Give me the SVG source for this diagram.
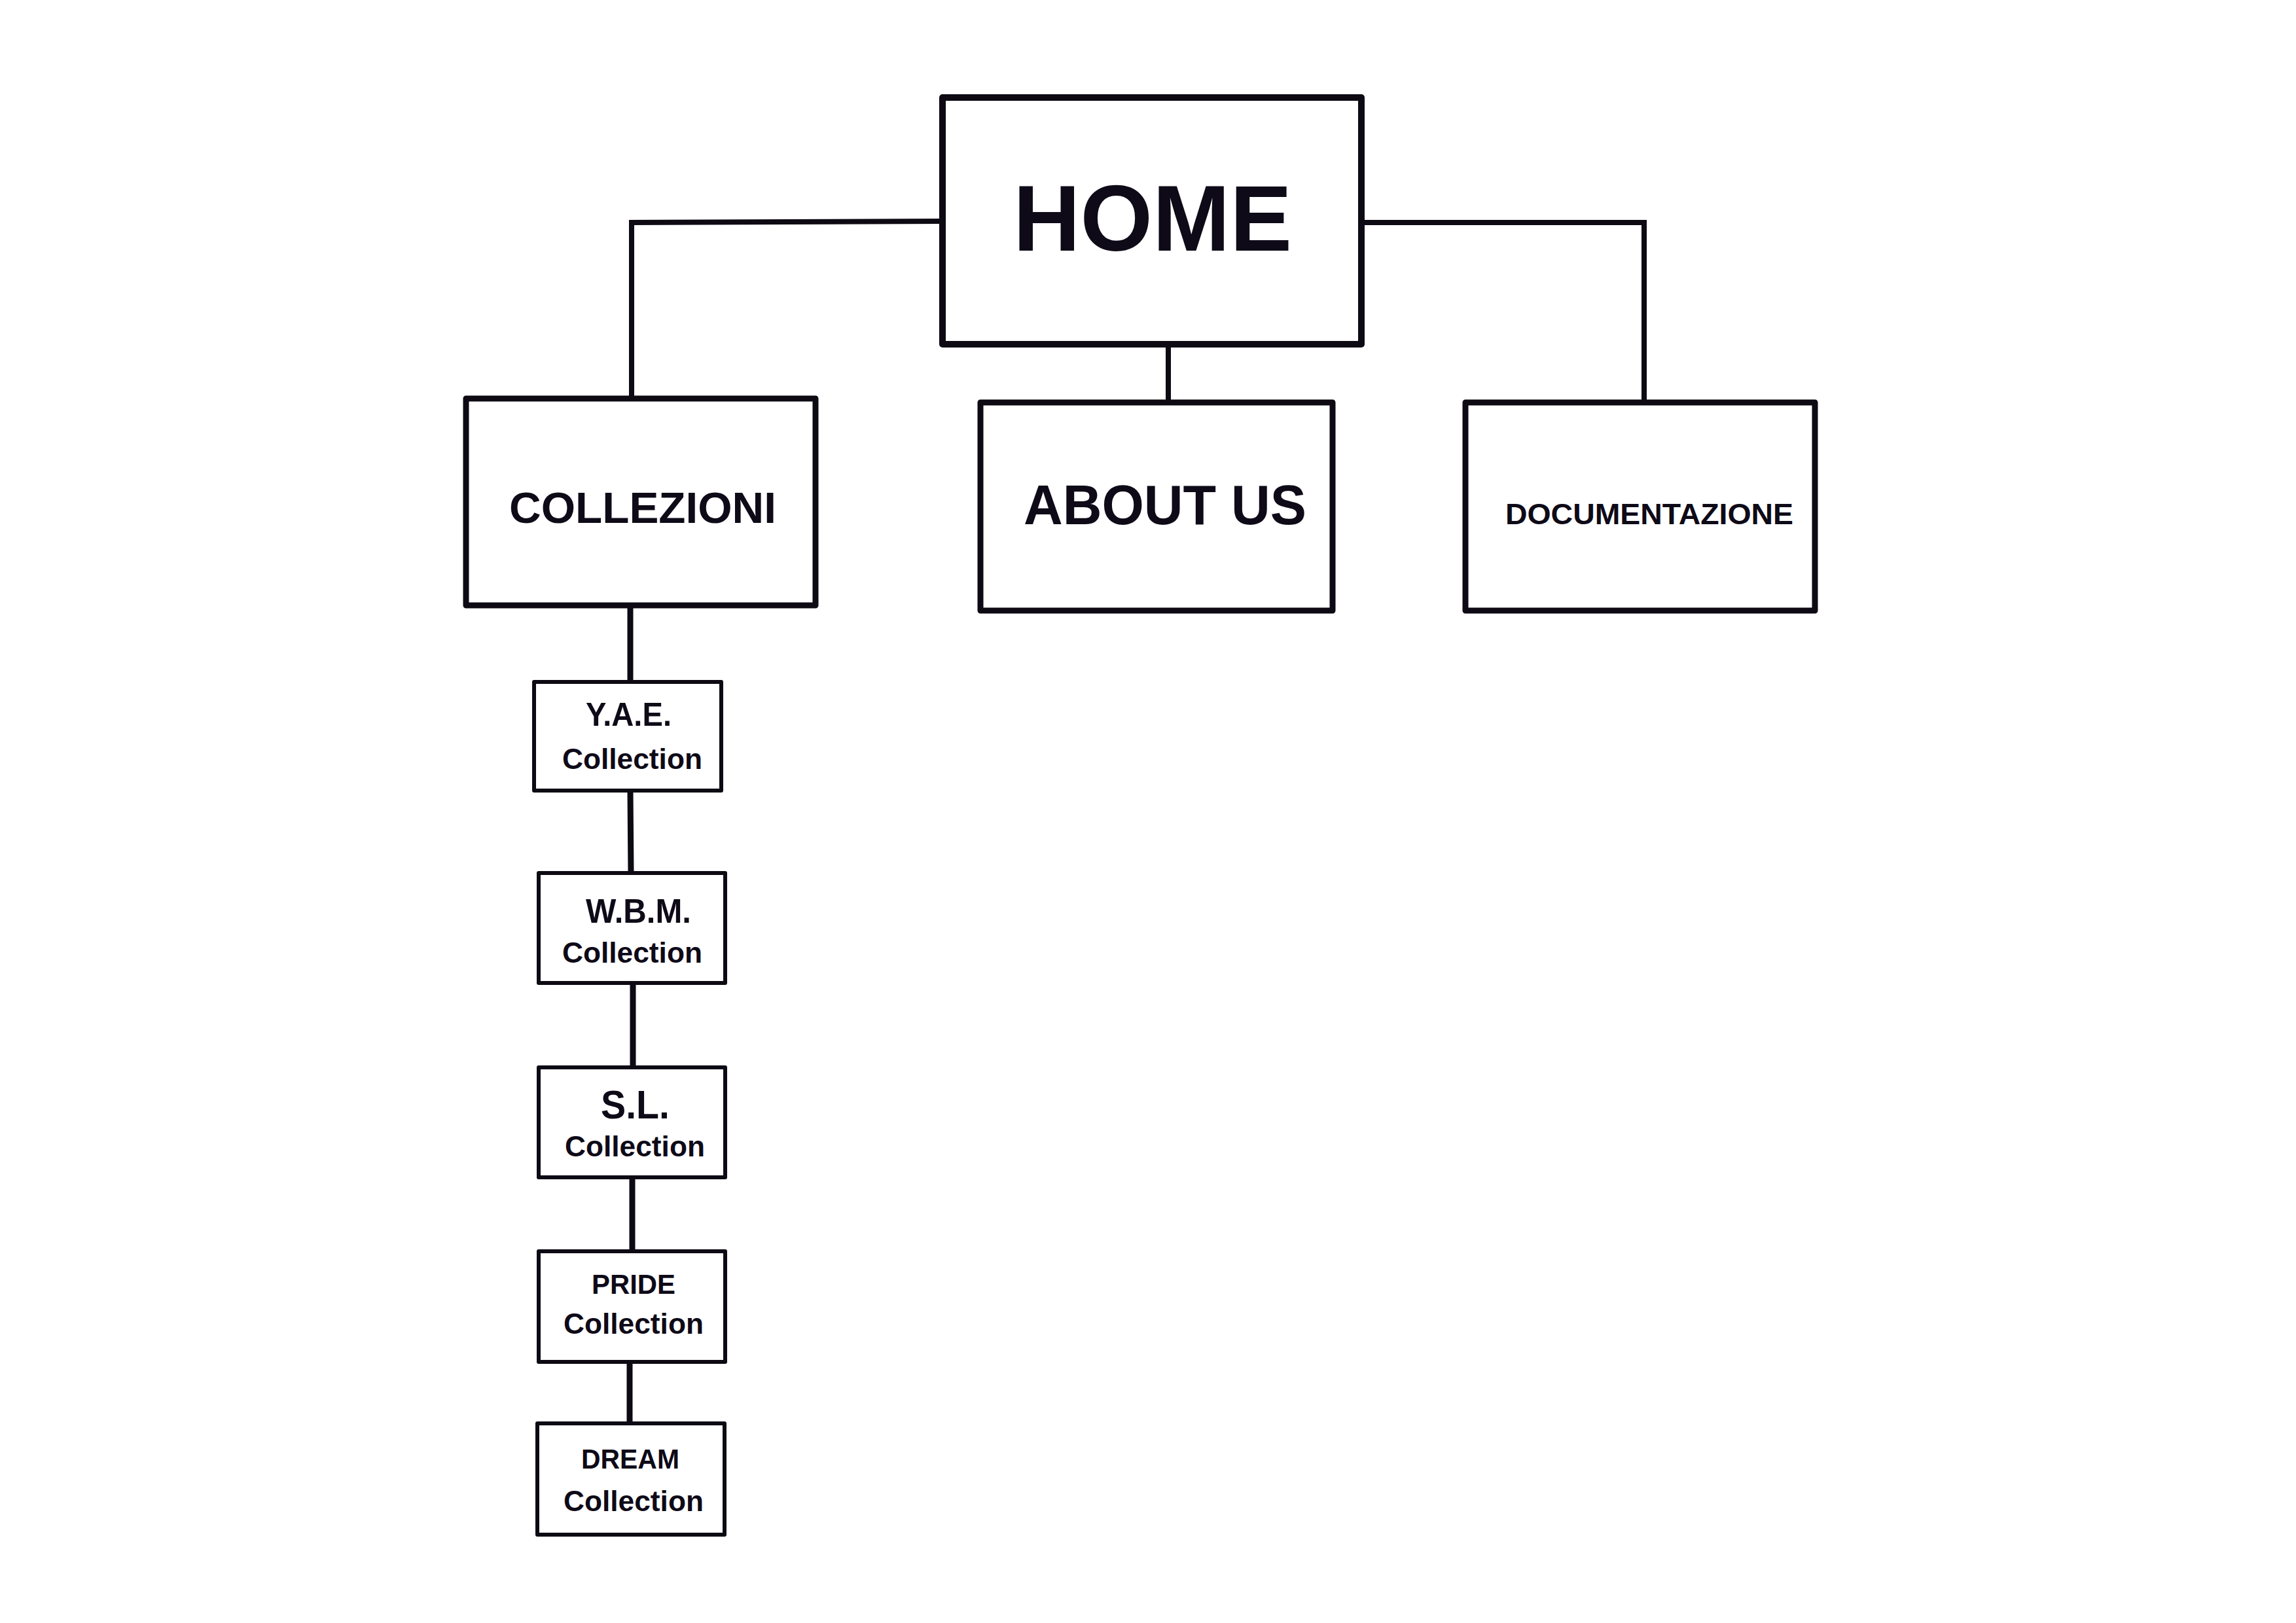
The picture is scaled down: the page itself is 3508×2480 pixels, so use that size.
<svg xmlns="http://www.w3.org/2000/svg" width="3508" height="2480" viewBox="0 0 3508 2480">
<style>
.bg{fill:#ffffff}
.box{fill:#ffffff;stroke:#0d0a14;stroke-linejoin:round}
.big{stroke-width:10}
.mid{stroke-width:9}
.small{stroke-width:6}
.conn{fill:none;stroke:#0d0a14;stroke-width:8;stroke-linecap:round;stroke-linejoin:miter}
.sub{stroke-width:9}
text{font-family:"Liberation Sans",Arial,sans-serif;font-weight:700;fill:#0e0a17}
.coll{font-size:44px}
</style>
<rect class="bg" x="0" y="0" width="3508" height="2480"/>
<g id="connectors">
<path class="conn" d="M1440,338 L965,340 L965,609"/>
<path class="conn" d="M1785,526 L1785,615"/>
<path class="conn" d="M2080,340 L2512,340 L2512,615"/>
<path class="conn sub" d="M963,925 L963,1042"/>
<path class="conn sub" d="M963,1208 L964,1334"/>
<path class="conn sub" d="M967,1502 L967,1631"/>
<path class="conn sub" d="M966,1799 L966,1912"/>
<path class="conn sub" d="M962,2081 L962,2175"/>
</g>
<g id="home">
<rect class="box big" x="1440" y="149" width="640" height="377"/>
<text x="1548" y="383" font-size="143" textLength="426" lengthAdjust="spacingAndGlyphs">HOME</text>
</g>
<g id="collezioni">
<rect class="box mid" x="712" y="609" width="534" height="316"/>
<text x="778" y="799" font-size="67" textLength="408" lengthAdjust="spacingAndGlyphs">COLLEZIONI</text>
</g>
<g id="about-us">
<rect class="box mid" x="1498" y="615" width="538" height="318"/>
<text x="1564" y="801" font-size="85" textLength="432" lengthAdjust="spacingAndGlyphs">ABOUT US</text>
</g>
<g id="documentazione">
<rect class="box mid" x="2239" y="615" width="534" height="318"/>
<text x="2300" y="801" font-size="44" textLength="440" lengthAdjust="spacingAndGlyphs">DOCUMENTAZIONE</text>
</g>
<g id="yae">
<rect class="box small" x="816" y="1042" width="286" height="166"/>
<text x="895" y="1109" font-size="50" textLength="131" lengthAdjust="spacingAndGlyphs">Y.A.E.</text>
<text class="coll" x="859" y="1175" textLength="214" lengthAdjust="spacingAndGlyphs">Collection</text>
</g>
<g id="wbm">
<rect class="box small" x="823" y="1334" width="285" height="168"/>
<text x="895" y="1410" font-size="51" textLength="161" lengthAdjust="spacingAndGlyphs">W.B.M.</text>
<text class="coll" x="859" y="1471" textLength="214" lengthAdjust="spacingAndGlyphs">Collection</text>
</g>
<g id="sl">
<rect class="box small" x="823" y="1631" width="285" height="168"/>
<text x="918" y="1709" font-size="61" textLength="105" lengthAdjust="spacingAndGlyphs">S.L.</text>
<text class="coll" x="863" y="1767" textLength="214" lengthAdjust="spacingAndGlyphs">Collection</text>
</g>
<g id="pride">
<rect class="box small" x="823" y="1912" width="285" height="169"/>
<text x="904" y="1977" font-size="42" textLength="128" lengthAdjust="spacingAndGlyphs">PRIDE</text>
<text class="coll" x="861" y="2038" textLength="214" lengthAdjust="spacingAndGlyphs">Collection</text>
</g>
<g id="dream">
<rect class="box small" x="821" y="2175" width="286" height="170"/>
<text x="888" y="2244" font-size="42" textLength="150" lengthAdjust="spacingAndGlyphs">DREAM</text>
<text class="coll" x="861" y="2309" textLength="214" lengthAdjust="spacingAndGlyphs">Collection</text>
</g>
</svg>
